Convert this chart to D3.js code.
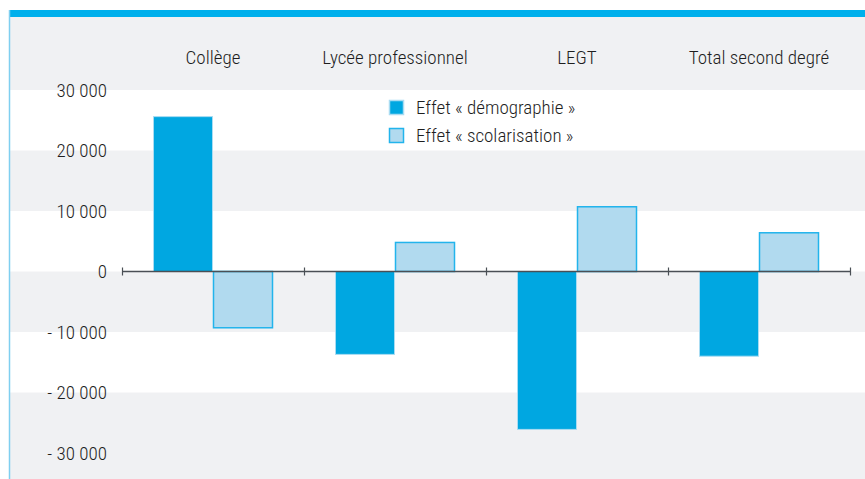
<!DOCTYPE html>
<html><head><meta charset="utf-8">
<script src="https://cdn.jsdelivr.net/npm/d3@7"></script>
<style>
html,body{margin:0;padding:0;background:#fff;}
svg{display:block;}
text{font-family:"Roboto Condensed","Liberation Sans Narrow","DejaVu Sans Condensed",sans-serif;font-weight:300;fill:#1e1e1e;}
</style></head>
<body><svg id="c" width="865" height="479"></svg>
<script>
const categories = ["Collège", "Lycée professionnel", "LEGT", "Total second degré"];
const seriesNames = ["Effet « démographie »", "Effet « scolarisation »"];
const demographie = [25600, -13700, -26100, -14000];
const scolarisation = [-9300, 4800, 10700, 6400];
const yTicks = [30000, 20000, 10000, 0, -10000, -20000, -30000];
const yTickLabels = ["30 000", "20 000", "10 000", "0", "- 10 000", "- 20 000", "- 30 000"];

const W = 865, H = 479;
const svg = d3.select("#c");
const fills = ["#00a7e1", "#b1daef"];
const strokes = ["#a9dcf2", "#22b4ec"];
const gray = "#f0f1f3";

// background panel
svg.append("rect").attr("x", 10).attr("y", 10).attr("width", W - 10).attr("height", H - 10).attr("fill", gray);

const y = d3.scaleLinear().domain([-30000, 30000]).range([453, 90]);
const x0 = d3.scaleBand().domain(categories).range([122, 850]).padding(0);
const x1 = d3.scaleBand().domain(seriesNames).range([31, 151]).padding(0);

// alternating bands (white between some ticks)
const whiteBands = [[20000, 30000], [0, 10000], [-20000, -10000]];
svg.append("g").selectAll("rect").data(whiteBands).join("rect")
  .attr("x", 10).attr("width", W - 10)
  .attr("y", d => y(d[1])).attr("height", d => y(d[0]) - y(d[1]))
  .attr("fill", "#ffffff");

// top blue bar and left border
svg.append("rect").attr("x", 9).attr("y", 10).attr("width", W - 9).attr("height", 7).attr("fill", "#00b0ec");
svg.append("line").attr("x1", 9.5).attr("x2", 9.5).attr("y1", 10).attr("y2", H).attr("stroke", "#7fcff0").attr("stroke-width", 1.5);

// y labels
svg.append("g").selectAll("text").data(yTicks).join("text")
  .attr("x", 107).attr("y", d => y(d)).attr("dy", "0.36em")
  .attr("text-anchor", "end").attr("font-size", 19)
  .text((d, i) => yTickLabels[i]);

// category labels at top
svg.append("g").selectAll("text").data(categories).join("text")
  .attr("x", d => x0(d) + x0.bandwidth() / 2).attr("y", 64)
  .attr("text-anchor", "middle").attr("font-size", 19)
  .text(d => d);

// bars
const values = [demographie, scolarisation];
const g = svg.append("g");
seriesNames.forEach((s, si) => {
  g.append("g").selectAll("rect").data(categories).join("rect")
    .attr("x", d => x0(d) + x1(s) + 0.5)
    .attr("width", x1.bandwidth() - 1)
    .attr("y", (d, i) => y(Math.max(0, values[si][i])))
    .attr("height", (d, i) => Math.abs(y(values[si][i]) - y(0)))
    .attr("fill", fills[si]).attr("stroke", strokes[si]).attr("stroke-width", si === 0 ? 1 : 1.5);
});

// x axis line with ticks
const ax = svg.append("g").attr("transform", `translate(0,${y(0)})`);
ax.append("line").attr("x1", 122).attr("x2", 850).attr("stroke", "#4a4f55").attr("stroke-width", 1.5);
const bounds = categories.map(c => x0(c)).concat([x0.range()[1]]);
ax.selectAll("line.t").data(bounds).join("line").attr("class", "t")
  .attr("x1", d => d + 0.5).attr("x2", d => d + 0.5).attr("y1", -4).attr("y2", 4)
  .attr("stroke", "#4a4f55").attr("stroke-width", 1.2);

// legend
const lg = svg.append("g");
seriesNames.forEach((s, i) => {
  const ly = 100 + i * 28;
  lg.append("rect").attr("x", 389.5).attr("y", ly + 0.5).attr("width", 14).attr("height", 14)
    .attr("fill", fills[i]).attr("stroke", strokes[i]).attr("stroke-width", 1.5);
  lg.append("text").attr("x", 416).attr("y", ly + 7).attr("dy", "0.36em").attr("font-size", 19).text(s);
});
</script></body></html>
